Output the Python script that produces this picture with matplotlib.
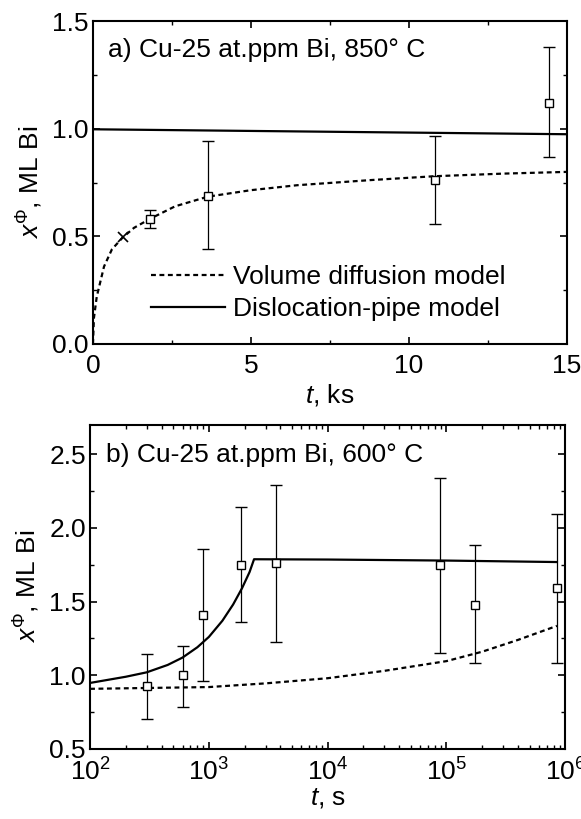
import numpy as np
import matplotlib
matplotlib.use("Agg")
import matplotlib.pyplot as plt
from matplotlib.ticker import MultipleLocator, LogLocator, NullFormatter, FormatStrFormatter


# ========================================
# DATA
# ========================================
# --- panel a): 850 C, linear time in ks ---
a_t = [1.82, 3.64, 10.83, 14.44]
a_x = [0.58, 0.69, 0.76, 1.12]
a_lo = [0.54, 0.44, 0.56, 0.87]
a_hi = [0.625, 0.945, 0.965, 1.38]

a_cross_t = [0.94]
a_cross_x = [0.495]

a_vol_t = [0.0, 0.03, 0.12, 0.35, 0.6, 0.94, 1.3, 1.82, 2.6, 3.64, 5.0, 6.46, 8.8, 10.83, 13.0, 15.0]
a_vol_x = [0.0, 0.12, 0.22, 0.36, 0.44, 0.495, 0.54, 0.583, 0.64, 0.685, 0.715, 0.738, 0.762, 0.78, 0.792, 0.80]

a_pipe_t = [0.0, 15.0]
a_pipe_x = [0.998, 0.975]

# --- panel b): 600 C, log time in s ---
b_t = [300, 600, 900, 1850, 3650, 88000, 174000, 855000]
b_x = [0.93, 1.0, 1.41, 1.75, 1.76, 1.75, 1.48, 1.59]
b_lo = [0.70, 0.785, 0.96, 1.36, 1.225, 1.15, 1.08, 1.08]
b_hi = [1.145, 1.20, 1.855, 2.14, 2.29, 2.335, 1.885, 2.095]

b_pipe_t = [100, 200, 300, 450, 600, 800, 1000, 1300, 1600, 1900, 2200, 2400, 1e4, 1e5, 8.5e5]
b_pipe_x = [0.948, 0.99, 1.02, 1.07, 1.12, 1.19, 1.26, 1.37, 1.48, 1.59, 1.70, 1.787, 1.785, 1.778, 1.768]

b_vol_t = [100, 1e3, 3e3, 1e4, 3e4, 1e5, 2e5, 4e5, 8.5e5]
b_vol_x = [0.908, 0.92, 0.945, 0.98, 1.03, 1.096, 1.16, 1.24, 1.335]


# ========================================
# STYLE
# ========================================
FS = 19

plt.rcParams["font.family"] = ["Liberation Sans", "DejaVu Sans"]
plt.rcParams["mathtext.fontset"] = "custom"
plt.rcParams["mathtext.rm"] = "Liberation Sans"
plt.rcParams["mathtext.it"] = "Liberation Sans:italic"
plt.rcParams["font.size"] = FS
plt.rcParams["axes.linewidth"] = 1.5

fig = plt.figure(figsize=(5.81, 8.19), dpi=100)
ax1 = fig.add_axes([0.160, 0.580, 0.816, 0.394])
ax2 = fig.add_axes([0.155, 0.0855, 0.818, 0.396])


def style_axis(ax, xpad):
    ax.tick_params(which="both", direction="in", top=True, right=True,
                   labelsize=FS)
    ax.tick_params(which="major", length=5, width=1.2)
    ax.tick_params(which="minor", length=3, width=1.0)
    ax.tick_params(axis="x", which="major", pad=xpad)
    ax.tick_params(axis="y", which="major", pad=3)


def draw_points(ax, t, x, lo, hi):
    yerr = [np.array(x) - np.array(lo), np.array(hi) - np.array(x)]
    ax.errorbar(t, x, yerr=yerr, fmt="s", mfc="white", mec="black",
                ms=6, mew=1.0, ecolor="black", elinewidth=0.9,
                capsize=4, capthick=0.9, zorder=3)


YLABEL = r"$\mathit{x}^{\mathit{Φ}}$, ML Bi"

# ========================================
# PANEL a)
# ========================================
ax1.plot(a_vol_t, a_vol_x, "k--", lw=1.6, dashes=(2.2, 1.6),
         label="Volume diffusion model")
ax1.plot(a_pipe_t, a_pipe_x, "k-", lw=1.6, label="Dislocation-pipe model")
draw_points(ax1, a_t, a_x, a_lo, a_hi)
ax1.plot(a_cross_t, a_cross_x, "kx", ms=7, mew=1.2)

ax1.set_xlim(0, 15)
ax1.set_ylim(0, 1.5)
ax1.xaxis.set_major_locator(MultipleLocator(5))
ax1.xaxis.set_minor_locator(MultipleLocator(2.5))
ax1.yaxis.set_major_locator(MultipleLocator(0.5))
ax1.yaxis.set_minor_locator(MultipleLocator(0.25))
ax1.yaxis.set_major_formatter(FormatStrFormatter("%.1f"))
style_axis(ax1, 7)

ax1.set_xlabel(r"$\mathit{t}$, ks", labelpad=3)
ax1.set_ylabel(YLABEL, labelpad=5)
ax1.text(0.032, 0.91, "a) Cu-25 at.ppm Bi, 850° C", transform=ax1.transAxes,
         va="center", ha="left", fontsize=FS)

ax1.legend(loc="center left", bbox_to_anchor=(0.10, 0.157), frameon=False,
           handlelength=2.8, handletextpad=0.3, labelspacing=0.3,
           borderaxespad=0, fontsize=FS)

# ========================================
# PANEL b)
# ========================================
ax2.semilogx(b_vol_t, b_vol_x, "k--", lw=1.6, dashes=(2.2, 1.6))
ax2.semilogx(b_pipe_t, b_pipe_x, "k-", lw=1.6)
draw_points(ax2, b_t, b_x, b_lo, b_hi)

ax2.set_xlim(1e2, 1e6)
ax2.set_ylim(0.5, 2.7)
ax2.xaxis.set_major_locator(LogLocator(base=10, numticks=10))
ax2.xaxis.set_minor_locator(LogLocator(base=10, subs=np.arange(2, 10), numticks=20))
ax2.xaxis.set_minor_formatter(NullFormatter())
ax2.yaxis.set_major_locator(MultipleLocator(0.5))
ax2.yaxis.set_minor_locator(MultipleLocator(0.25))
ax2.yaxis.set_major_formatter(FormatStrFormatter("%.1f"))
style_axis(ax2, 7)

ax2.set_xlabel(r"$\mathit{t}$, s", labelpad=0)
ax2.set_ylabel(YLABEL, labelpad=5)
ax2.text(0.034, 0.907, "b) Cu-25 at.ppm Bi, 600° C", transform=ax2.transAxes,
         va="center", ha="left", fontsize=FS)

fig.savefig("out.png", dpi=100)
